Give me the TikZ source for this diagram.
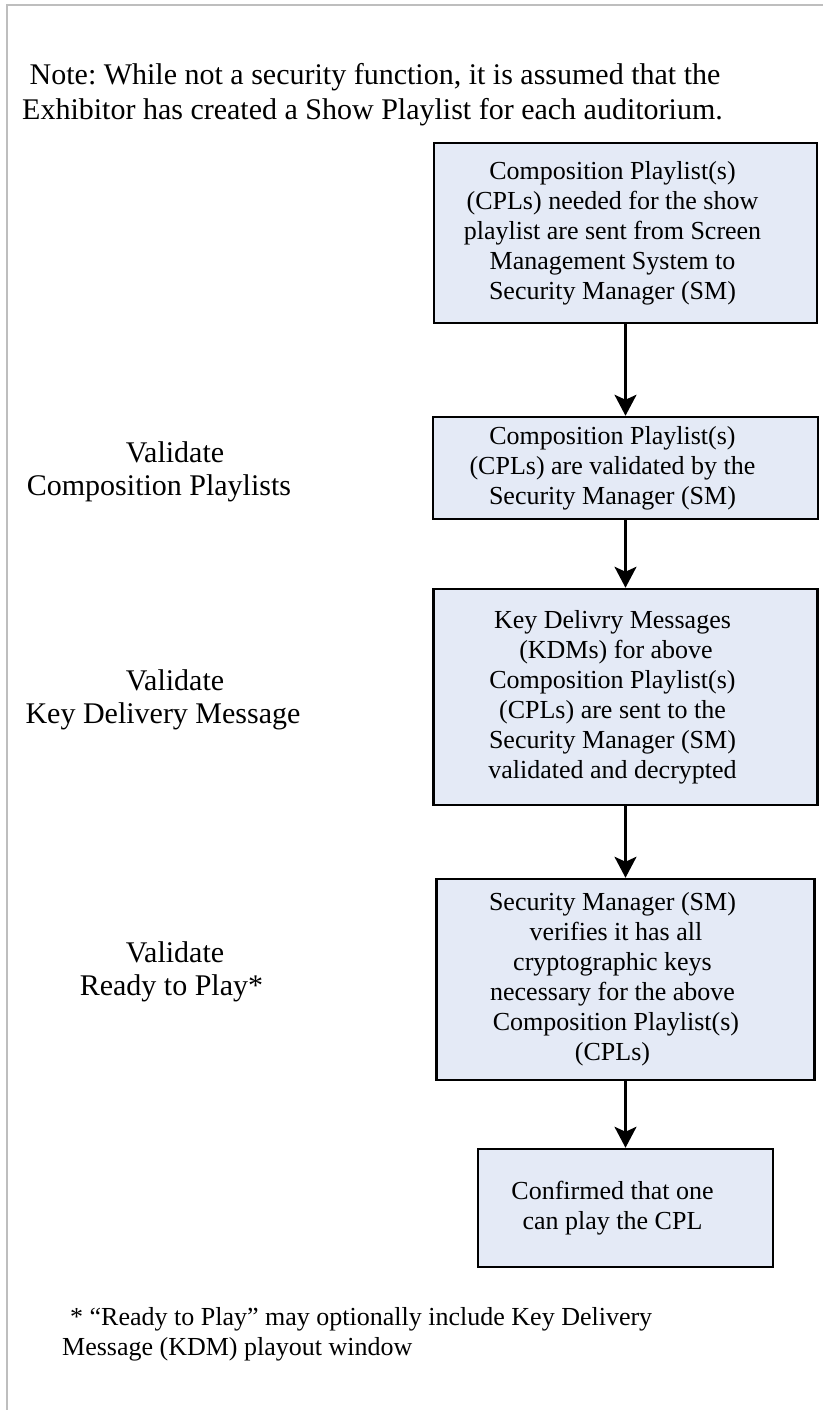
\documentclass[tikz,border=0pt]{standalone}
\usepackage{fontspec}
\setmainfont{Liberation Serif}
\usetikzlibrary{arrows.meta}
\definecolor{boxfill}{RGB}{228,234,246}
\definecolor{framegray}{RGB}{190,190,190}
\frenchspacing

\begin{document}
\begin{tikzpicture}[x=1pt,y=-1pt,
  stepbox/.style={draw=black, line width=2.5pt, fill=boxfill, inner sep=0pt},
  boxtext/.style={align=center, font=\fontsize{26}{30}\selectfont, inner sep=0pt},
  sidelabel/.style={align=center, font=\fontsize{30}{33}\selectfont, inner sep=0pt},
  notetext/.style={align=left, inner sep=0pt, anchor=north west},
  flow/.style={-{Stealth[length=21pt,width=22pt,inset=5pt]}, line width=2.5pt},
]
\useasboundingbox (0,0) rectangle (823,1410);
\fill[white] (0,0) rectangle (823,1410);

% page frame (top and left edges)
\draw[framegray, line width=2pt] (7,1410) -- (7,5) -- (823,5);

% heading note
\node[notetext, font=\fontsize{30}{34.5}\selectfont] (note) at (22,63.5)
  {\hspace*{7.5pt}Note: While not a security function, it is assumed that the\\
   Exhibitor has created a Show Playlist for each auditorium.};

% process boxes
\node[stepbox, minimum width=383pt, minimum height=180pt] (b1) at (625.5,233) {};
\node[stepbox, minimum width=385pt, minimum height=102pt] (b2) at (625.5,468) {};
\node[stepbox, minimum width=384pt, minimum height=216pt] (b3) at (625.5,697) {};
\node[stepbox, minimum width=378pt, minimum height=201pt] (b4) at (625.5,979.5) {};
\node[stepbox, minimum width=295pt, minimum height=118pt] (b5) at (625.5,1208) {};

\node[boxtext] (t1) at ([xshift=-13pt]b1.center)
  {Composition Playlist(s)\\(CPLs) needed for the show\\playlist are sent from Screen\\Management System to\\Security Manager (SM)};
\node[boxtext] (t2) at ([xshift=-13pt]b2.center)
  {Composition Playlist(s)\\(CPLs) are validated by the\\Security Manager (SM)};
\node[boxtext] (t3) at ([xshift=-13pt]b3.center)
  {Key Delivry Messages\\\hspace*{7pt}(KDMs) for above\\Composition Playlist(s)\\(CPLs) are sent to the\\Security Manager (SM)\\validated and decrypted};
\node[boxtext] (t4) at ([xshift=-13pt]b4.center)
  {Security Manager (SM)\\\hspace*{7pt}verifies it has all\\cryptographic keys\\necessary for the above\\\hspace*{7pt}Composition Playlist(s)\\(CPLs)};
\node[boxtext] (t5) at ([xshift=-13pt]b5.center)
  {Confirmed that one\\can play the CPL};

% flow arrows
\draw[flow] (b1.south) -- (b2.north);
\draw[flow] (b2.south) -- (b3.north);
\draw[flow] (b3.south) -- (b4.north);
\draw[flow] (b4.south) -- (b5.north);

% stage labels
\node[sidelabel] (l1) at (159,471.5) {\hspace*{32pt}Validate\\Composition Playlists};
\node[sidelabel] (l2) at (163,699.5) {\hspace*{24pt}Validate\\Key Delivery Message};
\node[sidelabel] (l3) at (171.5,971.5) {\hspace*{7pt}Validate\\Ready to Play*};

% footnote
\node[notetext, font=\fontsize{26}{30}\selectfont] (foot) at (62,1307)
  {\hspace*{8pt}* “Ready to Play” may optionally include Key Delivery\\
   Message (KDM) playout window};
\end{tikzpicture}
\end{document}
